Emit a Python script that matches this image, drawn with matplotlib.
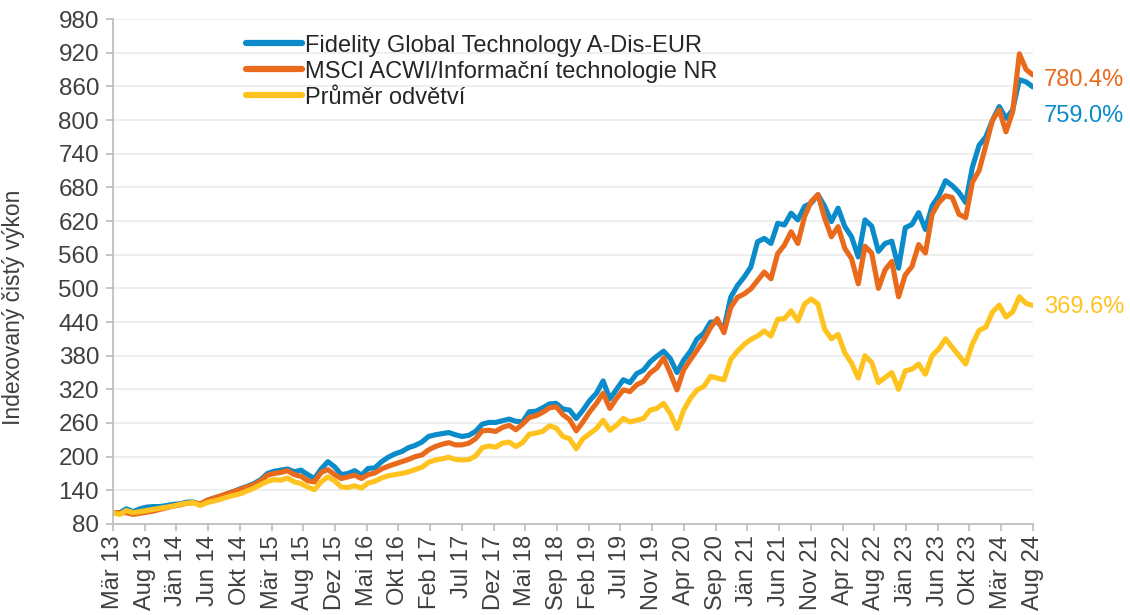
import numpy as np
import matplotlib
matplotlib.use("Agg")
import matplotlib.pyplot as plt

plt.rcParams['font.family'] = ['Liberation Sans', 'DejaVu Sans']

# monthly index values, Mär 13 .. Aug 24 (start = 100)
fidelity = [
    100, 100, 107, 102, 107, 110, 111, 111, 113, 115, 116, 119, 119, 114, 122, 126, 129, 134, 138, 143, 147, 152, 159, 170, 174,
    176, 178, 173, 176, 168, 161, 178, 191, 182, 168,
    170, 175, 167, 179, 180, 191, 199, 205, 209, 216, 220, 226,
    236, 239, 241, 243, 239, 236, 238, 245, 258, 261, 261, 264, 267, 263, 262, 280, 281, 287, 294, 295, 285, 283, 268,
    283, 300, 313, 335, 303, 320, 337, 332, 348, 354, 369, 379, 388, 375, 350, 372, 388, 410, 420, 440, 440, 428,
    484, 505, 520, 538, 583, 589, 580, 616, 613, 634, 622, 646, 652, 667, 646, 619, 643, 610, 592, 556,
    622, 611, 566, 580, 584, 536, 608, 614, 635, 605, 647, 665, 692, 683, 671, 653, 716, 755, 770, 800, 824, 803, 818, 872, 868, 859.0,
]
msci = [
    100, 100, 100, 97, 99, 101, 103, 106, 109, 112, 114, 117, 118, 116, 122, 126, 130, 134, 138, 142, 146, 150, 157,
    167, 170, 172, 175, 168, 165, 157, 155, 172, 177, 168, 161, 164, 167, 161, 168, 171, 178, 183, 187, 191, 195, 200,
    203, 212, 218, 222, 225, 221, 221, 224, 232, 246, 247, 245, 252, 256, 248, 258, 270, 273, 279, 287, 289, 275, 266,
    246, 262, 280, 295, 313, 286, 304, 319, 316, 328, 334, 349, 358, 376, 349, 319, 355, 373, 390, 408, 430, 446,
    421, 466, 484, 490, 499, 514, 529, 517, 562, 577, 601, 580, 628, 655, 667, 625, 592, 610, 571, 553, 508,
    575, 563, 500, 533, 548, 485, 524, 539, 578, 563, 632, 653, 665, 662, 632, 626, 689, 710, 755, 800, 818, 779, 815, 918, 890, 880.4,
]
sector_avg = [
    100, 97, 104, 100, 102, 104, 106, 108, 110, 112, 115, 117, 118, 113, 118, 121, 124, 128, 131, 134, 139, 144, 150,
    156, 159, 158, 162, 155, 152, 146, 141, 155, 164, 157, 146, 145, 148, 144, 153, 156, 162, 166, 168, 170, 173, 177, 181,
    190, 194, 196, 199, 195, 194, 195, 201, 216, 219, 217, 224, 226, 218, 225, 240, 242, 245, 255, 251, 236, 232, 214,
    232, 241, 250, 265, 247, 256, 268, 262, 265, 268, 283, 286, 295, 277, 250, 283, 304, 319, 325, 343, 340,
    337, 373, 388, 400, 409, 415, 424, 415, 445, 446, 460, 442, 472, 481, 472, 427, 410, 418, 385, 367, 340,
    380, 368, 332, 341, 350, 320, 353, 356, 365, 347, 380, 392, 410, 395, 380, 365, 401, 425, 431, 458, 470, 449, 458, 485, 473, 469.6,
]

series_names = ["Fidelity Global Technology A-Dis-EUR",
                "MSCI ACWI/Informační technologie NR",
                "Průměr odvětví"]
colors = ["#0B8BC9", "#EA6A1C", "#FFC31F"]

tick_labels = ["Mär 13", "Aug 13", "Jän 14", "Jun 14", "Okt 14", "Mär 15", "Aug 15", "Dez 15",
               "Mai 16", "Okt 16", "Feb 17", "Jul 17", "Dez 17", "Mai 18", "Sep 18", "Feb 19",
               "Jul 19", "Nov 19", "Apr 20", "Sep 20", "Jän 21", "Jun 21", "Nov 21", "Apr 22",
               "Aug 22", "Jän 23", "Jun 23", "Okt 23", "Mär 24", "Aug 24"]

text_col = "#404040"
axis_col = "#BFBFBF"

fig = plt.figure(figsize=(11.3, 6.15), dpi=100)
ax = fig.add_axes([0.100, 0.148, 0.814, 0.821])

x = np.arange(len(fidelity))
for vals, name, c in zip([fidelity, msci, sector_avg], series_names, colors):
    ax.plot(x, vals, color=c, lw=3.7, label=name, solid_joinstyle='round', solid_capstyle='round')

# end labels
offsets = [-21, -3.5, -1.5]
for vals, c, off in zip([fidelity, msci, sector_avg], colors, offsets):
    ax.annotate(f"{vals[-1] - 100:.1f}%", xy=(x[-1], vals[-1]), xytext=(8, off),
                textcoords='offset points', color=c, fontsize=17, va='center', ha='left',
                annotation_clip=False)

ax.set_xlim(0, len(fidelity) - 1)
ax.set_ylim(80, 980)
ax.set_yticks(np.arange(80, 981, 60))
ax.set_xticks(np.linspace(0, len(fidelity) - 1, len(tick_labels)))
ax.set_xticklabels(tick_labels, rotation=90)

ax.grid(axis='y', color='#EBEBEB', lw=1.2)
ax.set_axisbelow(True)
for s in ['top', 'right']:
    ax.spines[s].set_visible(False)
for s in ['left', 'bottom']:
    ax.spines[s].set_color(axis_col)
    ax.spines[s].set_linewidth(1.3)
ax.tick_params(axis='both', colors=axis_col, labelcolor=text_col, labelsize=17, length=5, width=1.3)
ax.tick_params(axis='y', pad=5, labelsize=17.5)
ax.tick_params(axis='x', pad=3)

ax.set_ylabel("Indexovaný čistý výkon", fontsize=16.5, color=text_col)
ax.yaxis.set_label_coords(-0.096, 0.43)

leg = ax.legend(loc='upper left', bbox_to_anchor=(0.134, 0.988), frameon=False, fontsize=17,
                handlelength=2.4, handletextpad=0.1, labelspacing=0.17, borderaxespad=0.0)
for t in leg.get_texts():
    t.set_color("#262626")
for h in leg.get_lines():
    h.set_linewidth(4.5)

fig.savefig("out.png", dpi=100)
